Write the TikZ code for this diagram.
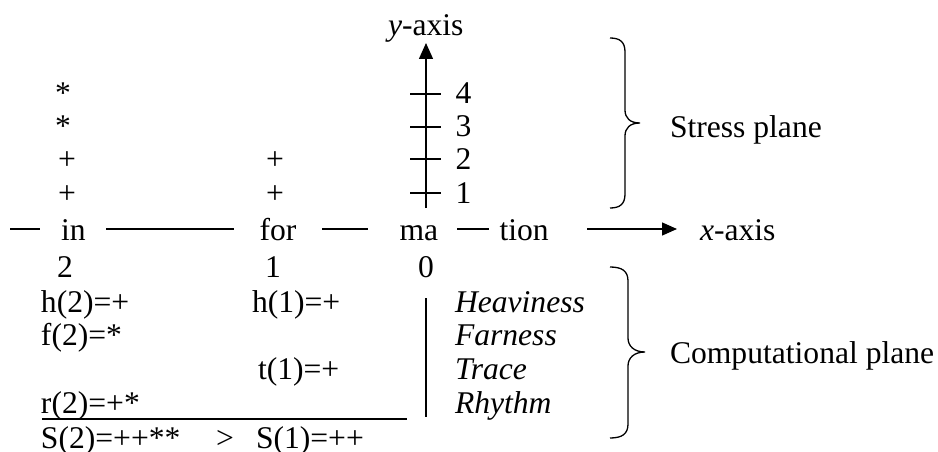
\documentclass[tikz,border=0pt]{standalone}
\usepackage{fontspec}
\setmainfont{Liberation Serif}
\usetikzlibrary{arrows.meta}
\begin{document}
\begin{tikzpicture}[x=1pt,y=-1pt,
  txt/.style={inner sep=0pt,outer sep=0pt,anchor=base west,font=\fontsize{31.6}{36}\selectfont},
  ctxt/.style={txt,anchor=base},
  ln/.style={line width=1.4pt},
  axisarrow/.style={ln,-{Triangle[length=16pt,width=14pt]}},
  bracepath/.style={line width=1.3pt}]
\useasboundingbox (0,0) rectangle (938,452);
% y-axis
\coordinate (yb) at (426,208);
\coordinate (yt) at (426,43);
\draw[axisarrow] (yb) -- (yt);
\node[txt] (ylab) at (388,36) {\textit{y}-axis};
\foreach \yy/\n/\bl in {94/4/103,127/3/136,159/2/169,193/1/203}{
  \coordinate (tl\n) at (410,\yy);
  \coordinate (tr\n) at (441,\yy);
  \draw[ln] (tl\n) -- (tr\n);
  \node[ctxt] (tick\n) at (463.5,\bl) {\n};
}
% stars and pluses
\node[ctxt] (s4) at (63,103) {*};
\node[ctxt] (s3) at (63,136) {*};
\node[ctxt] (p2) at (67,169) {+};
\node[ctxt] (p1) at (67,203) {+};
\node[ctxt] (fp2) at (275,169) {+};
\node[ctxt] (fp1) at (275,203) {+};
% x-axis words
\node[txt] (in) at (61,240) {in};
\node[txt] (for) at (259.5,240) {for};
\node[txt] (ma) at (399.5,240) {ma};
\node[txt] (tion) at (499.5,240) {tion};
\node[txt] (xlab) at (700,240) {\textit{x}-axis};
\coordinate (a1) at (10,229); \coordinate (a2) at (40,229);
\coordinate (b1) at (106,229); \coordinate (b2) at (234,229);
\coordinate (c1) at (322,229); \coordinate (c2) at (368,229);
\coordinate (d1) at (457,229); \coordinate (d2) at (489,229);
\coordinate (e1) at (587,229); \coordinate (e2) at (677,229);
\draw[ln] (a1) -- (a2);
\draw[ln] (b1) -- (b2);
\draw[ln] (c1) -- (c2);
\draw[ln] (d1) -- (d2);
\draw[ln,-{Triangle[length=15pt,width=13pt]}] (e1) -- (e2);
% position numbers
\node[ctxt] (n2) at (65,277) {2};
\node[ctxt] (n1) at (273,277) {1};
\node[ctxt] (n0) at (426,277) {0};
% computational rows
\node[txt] (h2) at (41,312) {h(2)=+};
\node[txt] (h1) at (252,312) {h(1)=+};
\node[txt] (f2) at (41,345) {f(2)=*};
\node[txt] (t1) at (258,379) {t(1)=+};
\node[txt] (r2) at (41,413) {r(2)=+*};
\coordinate (ul1) at (42,419); \coordinate (ul2) at (407,419);
\draw[line width=2pt] (ul1) -- (ul2);
\node[txt] (S2) at (41,448) {S(2)=++**};
\node[ctxt] (gt) at (225,448) {>};
\node[txt] (S1) at (256,448) {S(1)=++};
\coordinate (vb1) at (426,298); \coordinate (vb2) at (426,417);
\draw[line width=1.2pt] (vb1) -- (vb2);
\node[txt] (heav) at (455,312) {\textit{Heaviness}};
\node[txt] (farn) at (455,345) {\textit{Farness}};
\node[txt] (trac) at (455,379) {\textit{Trace}};
\node[txt] (rhyt) at (455,413) {\textit{Rhythm}};
% braces
\draw[bracepath] (610,38) .. controls (620,38) and (625,42) .. (625,52) -- (625,110)
  .. controls (625,118) and (630,123) .. (640,123)
  .. controls (630,123) and (625,128) .. (625,136) -- (625,194)
  .. controls (625,204) and (620,208) .. (610,208);
\node[txt] (stress) at (670,137) {Stress plane};
\draw[bracepath] (610,267) .. controls (622,267) and (628,271) .. (628,281) -- (628,338)
  .. controls (628,346) and (634,352) .. (645,352)
  .. controls (634,352) and (628,358) .. (628,366) -- (628,424)
  .. controls (628,434) and (622,438) .. (610,438);
\node[txt] (comp) at (670,363) {Computational plane};
\end{tikzpicture}
\end{document}
